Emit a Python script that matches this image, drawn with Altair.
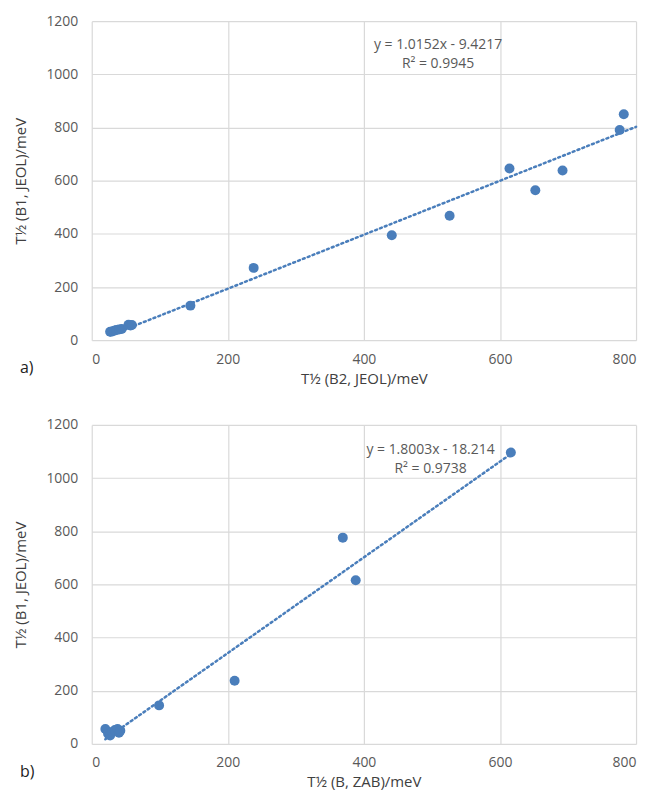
import altair as alt
import pandas as pd

# Panel a) data
a_x = [27, 30, 33, 36, 40, 44, 54, 57, 59, 145, 238, 441, 526, 614, 652, 692, 776, 782]
a_y = [32, 33, 36, 38, 40, 42, 58, 55, 57, 130, 272, 395, 468, 646, 564, 638, 791, 850]
a_slope, a_int = 1.0152, -9.4217
a_trend_x = [27, 800]
a_eq = ["y = 1.0152x - 9.4217", "R² = 0.9945"]
a_eq_pos = [509, 1111]

# Panel b) data
b_x = [20, 24, 27, 30, 34, 38, 40, 42, 99, 210, 369, 388, 616]
b_y = [56, 38, 32, 45, 52, 56, 42, 50, 145, 238, 776, 616, 1096]
b_slope, b_int = 1.8003, -18.214
b_trend_x = [20, 616]
b_eq = ["y = 1.8003x - 18.214", "R² = 0.9738"]
b_eq_pos = [498, 1105]

x_ticks = [0, 200, 400, 600, 800]
y_ticks = [0, 200, 400, 600, 800, 1000, 1200]

BLUE = "#4A7EBB"
FONT = "Open Sans"
W, H = 546, 320


def panel(xs, ys, slope, intercept, trend_x, eq, eq_pos, xtitle, tag):
    pts = pd.DataFrame({"x": xs, "y": ys})
    trend = pd.DataFrame({"x": trend_x, "y": [slope * v + intercept for v in trend_x]})
    eqdf = pd.DataFrame({"x": [eq_pos[0]], "y": [eq_pos[1]], "t": [eq]})

    xs_ = alt.Scale(domain=[0, 800], nice=False)
    ys_ = alt.Scale(domain=[0, 1200], nice=False)
    xaxis = alt.Axis(values=x_ticks, format="d", title=xtitle, grid=True, domain=False,
                     ticks=False, labelPadding=12, titlePadding=5, titleFontWeight=400)
    yaxis = alt.Axis(values=y_ticks, format="d", title="T½ (B1, JEOL)/meV", grid=True,
                     domain=False, ticks=False, labelPadding=14, titlePadding=17,
                     titleFontWeight=400)

    line = alt.Chart(trend).mark_line(color=BLUE, strokeWidth=2.5, strokeDash=[2, 3.2],
                                      strokeCap="round").encode(
        x=alt.X("x:Q", scale=xs_, axis=xaxis),
        y=alt.Y("y:Q", scale=ys_, axis=yaxis),
    )
    points = alt.Chart(pts).mark_circle(color=BLUE, size=100, opacity=1).encode(
        x=alt.X("x:Q", scale=xs_),
        y=alt.Y("y:Q", scale=ys_),
    )
    text = alt.Chart(eqdf).mark_text(font=FONT, fontSize=14, color="#595959",
                                     lineHeight=19, baseline="middle", align="center").encode(
        x=alt.X("x:Q", scale=xs_),
        y=alt.Y("y:Q", scale=ys_),
        text="t",
    )
    label = alt.Chart(pts.head(1)).mark_text(font=FONT, fontSize=16, color="#222222",
                                             align="left", baseline="middle").encode(
        x=alt.value(-72), y=alt.value(H + 28), text=alt.value(tag))
    return alt.layer(line, points, text, label).properties(width=W, height=H)


top = panel(a_x, a_y, a_slope, a_int, a_trend_x, a_eq, a_eq_pos, "T½ (B2, JEOL)/meV", "a)")
bottom = panel(b_x, b_y, b_slope, b_int, b_trend_x, b_eq, b_eq_pos, "T½ (B, ZAB)/meV", "b)")

chart = alt.vconcat(top, bottom, spacing=32).configure(background="white").configure_view(
    stroke=None).configure_axis(
    gridColor="#D9D9D9", gridWidth=1.2,
    labelFont=FONT, labelFontSize=14, labelColor="#595959",
    titleFont=FONT, titleFontSize=15, titleColor="#404040",
)

chart.save("out.html", embed_options={"renderer": "svg", "actions": False})
